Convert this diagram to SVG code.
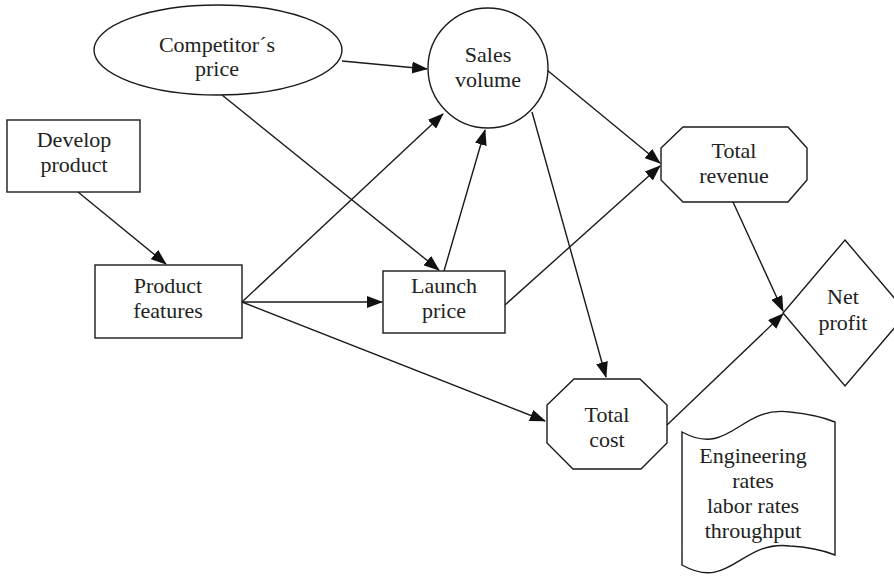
<svg xmlns="http://www.w3.org/2000/svg" width="894" height="577" viewBox="0 0 894 577">
<style>
.shape{fill:#fff;stroke:#1a1a1a;stroke-width:1.4}
.t{font-family:"Liberation Serif","Times New Roman",serif;font-size:22px;fill:#222;text-anchor:middle}
.c{fill:none;stroke:#1a1a1a;stroke-width:1.4;marker-end:url(#ah)}
</style>
<defs>
<marker id="ah" markerUnits="userSpaceOnUse" markerWidth="16" markerHeight="12" refX="15" refY="6" orient="auto" viewBox="0 0 16 12">
<path d="M0,0 L16,6 L0,12 z" fill="#111"/>
</marker>
</defs>
<rect width="894" height="577" fill="#fff"/>
<g id="connectors">
<line class="c" x1="342" y1="61" x2="427" y2="69"/>
<line class="c" x1="222" y1="95" x2="439" y2="270"/>
<line class="c" x1="78" y1="192" x2="166" y2="264"/>
<line class="c" x1="242" y1="302" x2="443" y2="114"/>
<line class="c" x1="242" y1="302" x2="382" y2="302"/>
<line class="c" x1="242" y1="302" x2="545" y2="421"/>
<line class="c" x1="444" y1="271" x2="485" y2="130"/>
<line class="c" x1="547" y1="70" x2="660" y2="163"/>
<line class="c" x1="532" y1="112" x2="606" y2="377"/>
<line class="c" x1="505" y1="305" x2="660" y2="166"/>
<line class="c" x1="733" y1="202" x2="783" y2="311"/>
<line class="c" x1="667" y1="425" x2="783" y2="314"/>
</g>
<g id="competitors-price">
<ellipse class="shape" cx="218" cy="50" rx="124" ry="45"/>
<text class="t" x="217" y="52">Competitor´s</text>
<text class="t" x="217" y="76">price</text>
</g>
<g id="sales-volume">
<circle class="shape" cx="488" cy="68" r="60"/>
<text class="t" x="488" y="62">Sales</text>
<text class="t" x="488" y="87">volume</text>
</g>
<g id="develop-product">
<rect class="shape" x="7" y="120" width="133" height="72"/>
<text class="t" x="74" y="147">Develop</text>
<text class="t" x="74" y="172">product</text>
</g>
<g id="product-features">
<rect class="shape" x="95" y="265" width="147" height="73"/>
<text class="t" x="168" y="293">Product</text>
<text class="t" x="168" y="318">features</text>
</g>
<g id="launch-price">
<rect class="shape" x="383" y="271" width="122" height="62"/>
<text class="t" x="444" y="293">Launch</text>
<text class="t" x="444" y="318">price</text>
</g>
<g id="total-revenue">
<polygon class="shape" points="683,127 788,127 807,148 807,180 788,202 683,202 661,180 661,148"/>
<text class="t" x="734" y="158">Total</text>
<text class="t" x="734" y="183">revenue</text>
</g>
<g id="net-profit">
<polygon class="shape" points="845,240 907,313 845,386 783,313"/>
<text class="t" x="843" y="304">Net</text>
<text class="t" x="843" y="330">profit</text>
</g>
<g id="total-cost">
<polygon class="shape" points="574,379 640,379 667,405 667,443 641,469 573,469 547,443 547,405"/>
<text class="t" x="607" y="422">Total</text>
<text class="t" x="607" y="447">cost</text>
</g>
<g id="rates-document">
<path class="shape" d="M682,432 C730,458 740,405 790,412 C810,414 825,418 835,422 L835,555 C825,551 810,547 790,546 C740,540 730,592 682,565 Z"/>
<text class="t" x="753" y="463">Engineering</text>
<text class="t" x="753" y="488">rates</text>
<text class="t" x="753" y="513">labor rates</text>
<text class="t" x="753" y="538">throughput</text>
</g>
</svg>
